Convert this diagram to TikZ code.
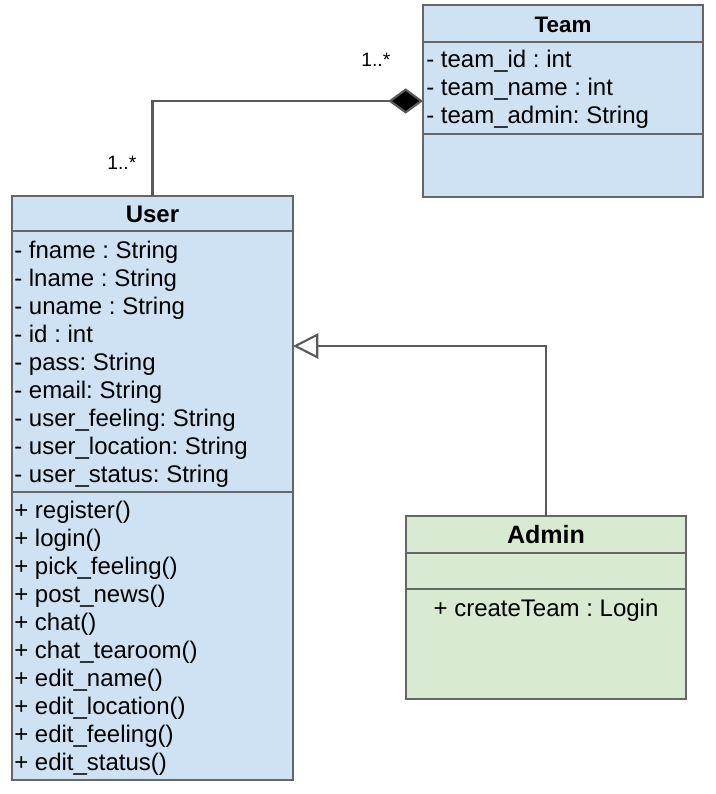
\documentclass[tikz,border=0pt]{standalone}
\usepackage{fontspec}
\setmainfont{Liberation Sans}
\frenchspacing
\usetikzlibrary{arrows.meta}
\definecolor{ublue}{HTML}{CFE2F3}
\definecolor{ugreen}{HTML}{D9EAD3}
\definecolor{bordergray}{HTML}{666666}
\definecolor{conngray}{HTML}{5A5A5A}
\tikzset{
  classbox/.style={draw=bordergray, line width=2.2pt, inner sep=0pt, outer sep=0pt, anchor=north west},
  divider/.style={draw=bordergray, line width=2.2pt},
  conn/.style={draw=conngray, line width=1.6pt},
  member/.style={inner sep=0pt, anchor=base west, font=\fontsize{18pt}{21pt}\selectfont},
  centered/.style={inner sep=0pt, anchor=base, font=\fontsize{18pt}{21pt}\selectfont},
  title/.style={inner sep=0pt, anchor=base, font=\bfseries\fontsize{#1}{21pt}\selectfont},
  mult/.style={inner sep=0pt, anchor=base west, font=\fontsize{14.5pt}{16pt}\selectfont}
}
\begin{document}
\begin{tikzpicture}[x=0.75pt, y=-0.75pt]
\useasboundingbox (0,0) rectangle (716,794);
% boxes
\node[classbox, fill=ublue, minimum width=210pt, minimum height=144pt] (team) at (423,5) {};
\node[classbox, fill=ublue, minimum width=210.75pt, minimum height=438pt] (user) at (12,196) {};
\node[classbox, fill=ugreen, minimum width=210pt, minimum height=137.25pt] (admin) at (406,516) {};
% dividers
\draw[divider] (team.west |- 0,42) -- (team.east |- 0,42);
\draw[divider] (team.west |- 0,134) -- (team.east |- 0,134);
\draw[divider] (user.west |- 0,231) -- (user.east |- 0,231);
\draw[divider] (user.west |- 0,492) -- (user.east |- 0,492);
\draw[divider] (admin.west |- 0,553) -- (admin.east |- 0,553);
\draw[divider] (admin.west |- 0,589) -- (admin.east |- 0,589);
% titles
\node[title=16.8pt] (teamtitle) at (563,32) {Team};
\node[title=18pt] (usertitle) at (152.5,222) {User};
\node[title=18.8pt] (admintitle) at (546,543) {Admin};
% team attributes
\node[member] (ta1) at (426,67) {- team\_id : int};
\node[member] (ta2) at (426,95) {- team\_name : int};
\node[member] (ta3) at (426,123) {- team\_admin: String};
% user attributes
\foreach \t [count=\i from 0] in {- fname : String, - lname : String, - uname : String, - id : int, - pass: String, - email: String, - user\_feeling: String, - user\_location: String, - user\_status: String}
  \node[member] (ua\i) at (14,258+28*\i) {\t};
% user methods
\foreach \t [count=\i from 0] in {+ register(), + login(), + pick\_feeling(), + post\_news(), + chat(), + chat\_tearoom(), + edit\_name(), + edit\_location(), + edit\_feeling(), + edit\_status()}
  \node[member] (um\i) at (14,518+28*\i) {\t};
% admin method
\node[centered] (am1) at (546,616) {+ createTeam : Login};
% multiplicities
\node[mult] (m1) at (361,66) {1..*};
\node[mult] (m2) at (107,169) {1..*};
% composition
\draw[conn, {Diamond[length=26pt, width=19pt, fill=black]}-] (team.west) -| (user.north);
% generalization
\coordinate (genend) at (user.east |- 0,346);
\draw[conn, -{Triangle[open, length=19pt, width=19pt, fill=white]}] (admin.north) |- (genend);
\end{tikzpicture}
\end{document}
